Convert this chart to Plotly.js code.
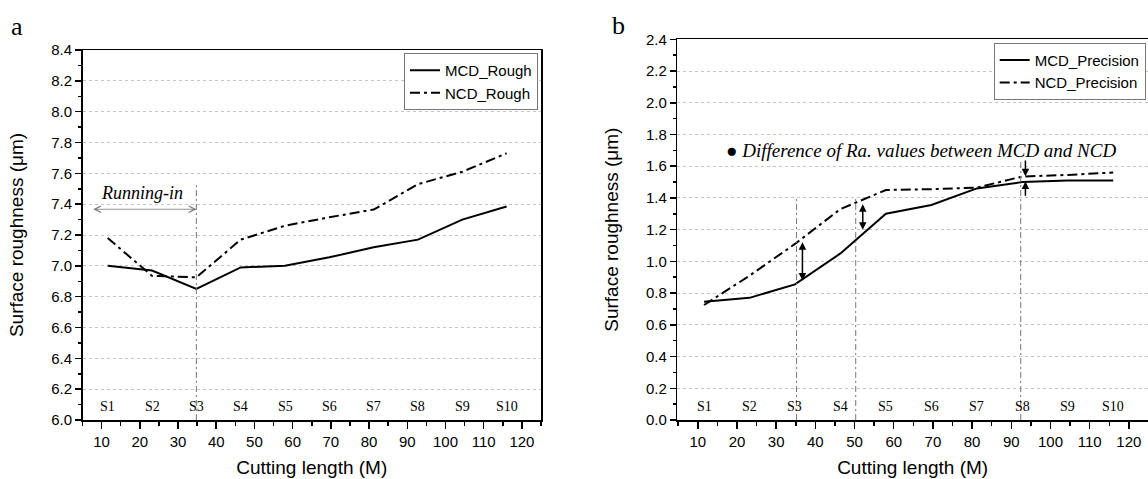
<!DOCTYPE html>
<html>
<head>
<meta charset="utf-8">
<script src="https://cdn.plot.ly/plotly-3.0.1.min.js"></script>
<style>html,body{margin:0;padding:0;background:#fff;}#chart{width:1148px;height:479px;}</style>
</head>
<body>
<div id="chart"></div>
<script>
// ---- data ----
const stageX = [11.6, 23.2, 34.8, 46.4, 58.0, 69.6, 81.2, 92.8, 104.4, 116.0];
const stageLabels = ['S1','S2','S3','S4','S5','S6','S7','S8','S9','S10'];
const mcdRough = [7.00, 6.97, 6.85, 6.99, 7.00, 7.055, 7.12, 7.17, 7.30, 7.385];
const ncdRough = [7.18, 6.935, 6.925, 7.17, 7.26, 7.315, 7.365, 7.53, 7.61, 7.73];
const mcdPrecision = [0.745, 0.77, 0.855, 1.05, 1.30, 1.355, 1.46, 1.50, 1.51, 1.51];
const ncdPrecision = [0.725, 0.91, 1.11, 1.33, 1.45, 1.455, 1.465, 1.535, 1.545, 1.56];

const SANS = 'Arial, "Liberation Sans", sans-serif';
const SERIF = '"Times New Roman", "Liberation Serif", serif';
const DASHDOT = '10px,4px,3px,4px';

const traces = [
  {x: stageX, y: mcdRough, name: 'MCD_Rough', mode: 'lines', xaxis: 'x', yaxis: 'y',
   line: {color: '#000', width: 2}, legend: 'legend'},
  {x: stageX, y: ncdRough, name: 'NCD_Rough', mode: 'lines', xaxis: 'x', yaxis: 'y',
   line: {color: '#000', width: 2, dash: DASHDOT}, legend: 'legend'},
  {x: stageX, y: mcdPrecision, name: 'MCD_Precision', mode: 'lines', xaxis: 'x2', yaxis: 'y2',
   line: {color: '#000', width: 2}, legend: 'legend2'},
  {x: stageX, y: ncdPrecision, name: 'NCD_Precision', mode: 'lines', xaxis: 'x2', yaxis: 'y2',
   line: {color: '#000', width: 2, dash: DASHDOT}, legend: 'legend2'}
];

function xAxis(domain, range, anchor) {
  return {
    domain: domain, range: range, anchor: anchor,
    tickmode: 'linear', tick0: 0, dtick: 10,
    ticks: 'outside', ticklen: 7, tickwidth: 1.5, tickcolor: '#000',
    minor: {dtick: 5, ticks: 'outside', ticklen: 4, tickwidth: 1.5, tickcolor: '#000'},
    showgrid: false, zeroline: false,
    showline: true, linecolor: '#000', linewidth: 1.5, mirror: true,
    tickfont: {family: SANS, size: 15, color: '#000'},
    title: {text: 'Cutting length (M)', font: {family: SANS, size: 19, color: '#000'}, standoff: 12},
    fixedrange: true
  };
}
function yAxis(domain, range, anchor, mirror) {
  return {
    domain: domain, range: range, anchor: anchor,
    tickmode: 'linear', dtick: 0.2, tick0: 0, tickformat: '.1f',
    ticks: 'outside', ticklen: 6, tickwidth: 1.5, tickcolor: '#000',
    minor: {dtick: 0.1, ticks: 'outside', ticklen: 3, tickwidth: 1.5, tickcolor: '#000', showgrid: false},
    showgrid: true, gridcolor: '#c4c4c4', gridwidth: 1, griddash: 'dot',
    zeroline: false,
    showline: true, linecolor: '#000', linewidth: 1.5, mirror: mirror,
    tickfont: {family: SANS, size: 15, color: '#000'},
    title: {text: 'Surface roughness (\u03bcm)', font: {family: SANS, size: 19, color: '#000'}, standoff: 22},
    fixedrange: true
  };
}

const annotations = [];
// stage labels
stageLabels.forEach((s, i) => {
  annotations.push({x: stageX[i], y: 6.09, xref: 'x', yref: 'y', text: s, showarrow: false,
    font: {family: SERIF, size: 14, color: '#000'}});
  annotations.push({x: stageX[i], y: 0.088, xref: 'x2', yref: 'y2', text: s, showarrow: false,
    font: {family: SERIF, size: 14, color: '#000'}});
});
// running-in
annotations.push({x: 34.85, y: 7.367, ax: 7.4, ay: 7.367, xref: 'x', yref: 'y', axref: 'x', ayref: 'y',
  text: '', showarrow: true, arrowhead: 5, startarrowhead: 5, arrowside: 'end+start',
  arrowsize: 1.6, startarrowsize: 1.6, arrowwidth: 0.8, arrowcolor: '#777'});
annotations.push({x: 20.6, y: 7.47, xref: 'x', yref: 'y', text: '<i>Running-in</i>', showarrow: false,
  font: {family: SERIF, size: 18, color: '#000'}});
// difference arrows (right panel)
const arrowStyle = {xref: 'x2', yref: 'y2', axref: 'x2', ayref: 'y2', text: '', showarrow: true,
  arrowhead: 2, arrowsize: 1, arrowwidth: 1.5, arrowcolor: '#000'};
annotations.push(Object.assign({}, arrowStyle, {x: 36.7, y: 1.12, ax: 36.7, ay: 0.87,
  arrowside: 'end+start', startarrowhead: 2, startarrowsize: 1}));
annotations.push(Object.assign({}, arrowStyle, {x: 52.1, y: 1.36, ax: 52.1, ay: 1.19,
  arrowside: 'end+start', startarrowhead: 2, startarrowsize: 1}));
annotations.push(Object.assign({}, arrowStyle, {x: 93.6, y: 1.537, ax: 93.6, ay: 1.645}));
annotations.push(Object.assign({}, arrowStyle, {x: 93.6, y: 1.503, ax: 93.6, ay: 1.405}));
annotations.push({x: 16.8, y: 1.70, xref: 'x2', yref: 'y2', xanchor: 'left', yanchor: 'middle',
  text: '\u25cf <i>Difference of Ra. values between MCD and NCD</i>', showarrow: false,
  font: {family: SERIF, size: 19, color: '#000'}});
// panel letters
annotations.push({x: 16.6 / 1148, y: 1 - 26.7 / 479, xref: 'paper', yref: 'paper', text: 'a',
  xanchor: 'center', yanchor: 'middle',
  showarrow: false, font: {family: SERIF, size: 26, color: '#000'}});
annotations.push({x: 618 / 1148, y: 1 - 25 / 479, xref: 'paper', yref: 'paper', text: 'b',
  xanchor: 'center', yanchor: 'middle',
  showarrow: false, font: {family: SERIF, size: 26, color: '#000'}});

const refLine = {type: 'line', line: {color: '#777', width: 1, dash: '6px,3px,2px,3px'}};
const shapes = [
  Object.assign({}, refLine, {xref: 'x', yref: 'y', x0: 34.8, x1: 34.8, y0: 6.0, y1: 7.54}),
  Object.assign({}, refLine, {xref: 'x2', yref: 'y2', x0: 35.2, x1: 35.2, y0: 0, y1: 1.41}),
  Object.assign({}, refLine, {xref: 'x2', yref: 'y2', x0: 50.3, x1: 50.3, y0: 0, y1: 1.40}),
  Object.assign({}, refLine, {xref: 'x2', yref: 'y2', x0: 92.4, x1: 92.4, y0: 0, y1: 1.645})
];

const legendBase = {bgcolor: '#fff', bordercolor: '#777', borderwidth: 1,
  font: {family: SANS, size: 15, color: '#000'}, xanchor: 'right', yanchor: 'top',
  tracegroupgap: 0, itemwidth: 30};

const layout = {
  width: 1148, height: 479,
  margin: {l: 0, r: 0, t: 0, b: 0},
  paper_bgcolor: '#fff', plot_bgcolor: '#fff',
  showlegend: true,
  xaxis: xAxis([82.5 / 1148, 541 / 1148], [5, 125], 'y'),
  yaxis: yAxis([1 - 420 / 479, 1 - 50 / 479], [6.0, 8.4], 'x', true),
  xaxis2: xAxis([677.3 / 1148, 1], [4.77, 124.88], 'y2'),
  yaxis2: yAxis([1 - 420 / 479, 1 - 39.3 / 479], [0, 2.4], 'x2', false),
  legend: Object.assign({}, legendBase, {x: 538 / 1148, y: 1 - 53 / 479}),
  legend2: Object.assign({}, legendBase, {x: 1145.7 / 1148, y: 1 - 42.7 / 479}),
  annotations: annotations,
  shapes: shapes
};

Plotly.newPlot('chart', traces, layout, {displayModeBar: false, staticPlot: true});
</script>
</body>
</html>
